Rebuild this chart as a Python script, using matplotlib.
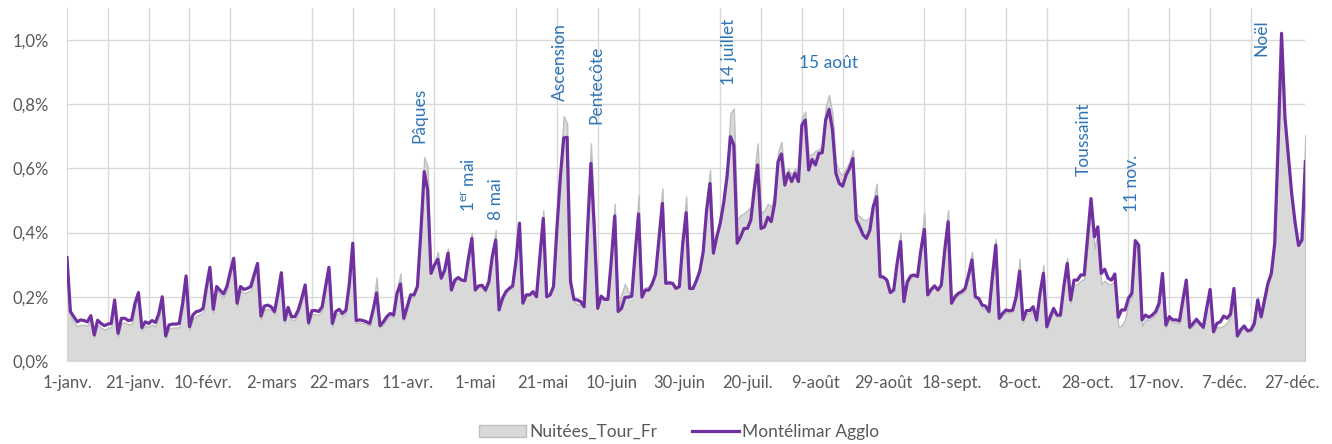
import matplotlib
matplotlib.use('Agg')
import matplotlib.pyplot as plt
from matplotlib.patches import Patch
from matplotlib.lines import Line2D
import numpy as np

plt.rcParams['font.family'] = ['Lato', 'DejaVu Sans']
plt.rcParams['mathtext.default'] = 'regular'

# 2022, one value per day (1 Jan .. 31 Dec), in %
montelimar = [
    0.322, 0.154, 0.138, 0.122, 0.128, 0.126, 0.122, 0.141, 0.081, 0.127,
    0.117, 0.110, 0.115, 0.117, 0.190, 0.086, 0.133, 0.133, 0.126, 0.128,
    0.180, 0.213, 0.104, 0.122, 0.117, 0.126, 0.120, 0.148, 0.200, 0.078,
    0.112, 0.115, 0.115, 0.117, 0.180, 0.265, 0.107, 0.143, 0.154, 0.156,
    0.164, 0.232, 0.292, 0.161, 0.232, 0.220, 0.209, 0.232, 0.278, 0.320,
    0.180, 0.232, 0.223, 0.226, 0.232, 0.268, 0.304, 0.140, 0.171, 0.174,
    0.169, 0.154, 0.211, 0.275, 0.128, 0.167, 0.138, 0.138, 0.159, 0.195,
    0.237, 0.119, 0.157, 0.157, 0.154, 0.169, 0.232, 0.292, 0.117, 0.154,
    0.161, 0.148, 0.159, 0.242, 0.367, 0.126, 0.128, 0.126, 0.122, 0.117,
    0.160, 0.212, 0.110, 0.122, 0.138, 0.148, 0.143, 0.211, 0.240, 0.133,
    0.169, 0.206, 0.206, 0.232, 0.400, 0.590, 0.533, 0.273, 0.299, 0.317,
    0.258, 0.283, 0.336, 0.221, 0.252, 0.260, 0.252, 0.250, 0.320, 0.382,
    0.221, 0.234, 0.236, 0.221, 0.247, 0.325, 0.377, 0.159, 0.195, 0.216,
    0.226, 0.234, 0.315, 0.429, 0.180, 0.206, 0.206, 0.216, 0.200, 0.325,
    0.444, 0.200, 0.206, 0.232, 0.412, 0.571, 0.695, 0.697, 0.247, 0.192,
    0.190, 0.185, 0.169, 0.408, 0.616, 0.410, 0.164, 0.202, 0.192, 0.192,
    0.315, 0.452, 0.154, 0.164, 0.198, 0.199, 0.202, 0.336, 0.458, 0.199,
    0.221, 0.221, 0.240, 0.270, 0.380, 0.491, 0.242, 0.243, 0.242, 0.226,
    0.232, 0.367, 0.462, 0.226, 0.226, 0.250, 0.280, 0.340, 0.470, 0.553,
    0.336, 0.387, 0.429, 0.491, 0.574, 0.699, 0.673, 0.367, 0.387, 0.413,
    0.413, 0.439, 0.533, 0.611, 0.413, 0.418, 0.448, 0.434, 0.491, 0.621,
    0.645, 0.548, 0.585, 0.559, 0.585, 0.559, 0.735, 0.751, 0.595, 0.628,
    0.611, 0.647, 0.649, 0.751, 0.784, 0.720, 0.585, 0.553, 0.545, 0.579,
    0.600, 0.631, 0.440, 0.418, 0.393, 0.382, 0.408, 0.481, 0.512, 0.263,
    0.261, 0.252, 0.213, 0.221, 0.304, 0.372, 0.185, 0.247, 0.265, 0.268,
    0.263, 0.346, 0.410, 0.206, 0.223, 0.234, 0.221, 0.237, 0.346, 0.434,
    0.180, 0.200, 0.211, 0.216, 0.226, 0.268, 0.315, 0.200, 0.195, 0.174,
    0.171, 0.154, 0.261, 0.361, 0.133, 0.148, 0.159, 0.156, 0.159, 0.200,
    0.280, 0.129, 0.157, 0.157, 0.169, 0.128, 0.211, 0.273, 0.107, 0.138,
    0.164, 0.143, 0.143, 0.232, 0.304, 0.190, 0.252, 0.252, 0.268, 0.268,
    0.387, 0.506, 0.387, 0.418, 0.273, 0.286, 0.258, 0.252, 0.271, 0.136,
    0.159, 0.159, 0.195, 0.211, 0.375, 0.361, 0.128, 0.143, 0.136, 0.143,
    0.154, 0.180, 0.273, 0.112, 0.138, 0.128, 0.128, 0.125, 0.190, 0.252,
    0.105, 0.117, 0.130, 0.117, 0.105, 0.165, 0.223, 0.091, 0.117, 0.122,
    0.140, 0.133, 0.146, 0.226, 0.078, 0.097, 0.109, 0.094, 0.097, 0.117,
    0.190, 0.138, 0.190, 0.242, 0.273, 0.367, 0.678, 1.021, 0.760, 0.640,
    0.520, 0.430, 0.360, 0.377, 0.621,
]

nuitees_fr = [
    0.310, 0.140, 0.120, 0.108, 0.113, 0.112, 0.110, 0.130, 0.075, 0.112,
    0.104, 0.098, 0.102, 0.106, 0.180, 0.078, 0.118, 0.120, 0.114, 0.116,
    0.168, 0.205, 0.095, 0.110, 0.106, 0.114, 0.108, 0.135, 0.190, 0.072,
    0.100, 0.104, 0.104, 0.106, 0.170, 0.255, 0.098, 0.130, 0.140, 0.144,
    0.152, 0.220, 0.285, 0.150, 0.220, 0.208, 0.198, 0.220, 0.268, 0.310,
    0.170, 0.220, 0.212, 0.215, 0.220, 0.258, 0.295, 0.130, 0.160, 0.163,
    0.158, 0.145, 0.200, 0.265, 0.118, 0.155, 0.128, 0.128, 0.148, 0.185,
    0.228, 0.110, 0.146, 0.146, 0.144, 0.158, 0.222, 0.285, 0.108, 0.144,
    0.150, 0.138, 0.150, 0.235, 0.360, 0.118, 0.120, 0.118, 0.115, 0.110,
    0.170, 0.260, 0.105, 0.115, 0.130, 0.140, 0.136, 0.220, 0.273, 0.125,
    0.160, 0.198, 0.200, 0.235, 0.420, 0.636, 0.605, 0.280, 0.305, 0.340,
    0.265, 0.290, 0.350, 0.230, 0.245, 0.255, 0.255, 0.252, 0.330, 0.400,
    0.225, 0.230, 0.230, 0.215, 0.240, 0.335, 0.408, 0.165, 0.190, 0.210,
    0.225, 0.230, 0.320, 0.435, 0.190, 0.205, 0.205, 0.215, 0.205, 0.340,
    0.470, 0.205, 0.205, 0.235, 0.430, 0.600, 0.763, 0.740, 0.260, 0.185,
    0.175, 0.178, 0.170, 0.430, 0.678, 0.440, 0.170, 0.205, 0.195, 0.195,
    0.330, 0.490, 0.165, 0.210, 0.240, 0.215, 0.210, 0.360, 0.517, 0.205,
    0.230, 0.230, 0.250, 0.290, 0.410, 0.538, 0.250, 0.250, 0.245, 0.230,
    0.235, 0.390, 0.512, 0.230, 0.230, 0.260, 0.290, 0.360, 0.500, 0.595,
    0.360, 0.400, 0.440, 0.500, 0.600, 0.772, 0.787, 0.440, 0.455, 0.460,
    0.470, 0.480, 0.580, 0.678, 0.460, 0.470, 0.490, 0.480, 0.520, 0.650,
    0.683, 0.570, 0.600, 0.580, 0.600, 0.580, 0.760, 0.777, 0.640, 0.645,
    0.655, 0.660, 0.670, 0.792, 0.829, 0.770, 0.620, 0.590, 0.580, 0.600,
    0.620, 0.657, 0.460, 0.450, 0.440, 0.440, 0.450, 0.500, 0.553, 0.270,
    0.265, 0.255, 0.215, 0.225, 0.320, 0.400, 0.190, 0.240, 0.260, 0.265,
    0.265, 0.370, 0.462, 0.205, 0.220, 0.230, 0.220, 0.235, 0.370, 0.470,
    0.180, 0.195, 0.205, 0.210, 0.220, 0.280, 0.340, 0.195, 0.190, 0.165,
    0.162, 0.150, 0.270, 0.380, 0.130, 0.142, 0.152, 0.150, 0.155, 0.205,
    0.318, 0.120, 0.148, 0.148, 0.160, 0.120, 0.220, 0.299, 0.100, 0.130,
    0.155, 0.137, 0.140, 0.240, 0.320, 0.180, 0.235, 0.240, 0.250, 0.255,
    0.360, 0.490, 0.350, 0.400, 0.240, 0.250, 0.240, 0.240, 0.250, 0.107,
    0.110, 0.130, 0.180, 0.200, 0.360, 0.350, 0.110, 0.130, 0.128, 0.135,
    0.145, 0.170, 0.265, 0.105, 0.130, 0.120, 0.120, 0.118, 0.180, 0.245,
    0.100, 0.110, 0.122, 0.110, 0.100, 0.160, 0.220, 0.088, 0.105, 0.105,
    0.110, 0.120, 0.138, 0.220, 0.075, 0.092, 0.100, 0.090, 0.092, 0.110,
    0.200, 0.130, 0.180, 0.235, 0.265, 0.360, 0.670, 1.000, 0.740, 0.620,
    0.500, 0.410, 0.360, 0.400, 0.704,
]

tick_labels = ['1-janv.', '21-janv.', '10-févr.', '2-mars', '22-mars', '11-avr.',
               '1-mai', '21-mai', '10-juin', '30-juin', '20-juil.', '9-août',
               '29-août', '18-sept.', '8-oct.', '28-oct.', '17-nov.', '7-déc.',
               '27-déc.']

# holiday labels: (text, day index, value %, rotation)
events = [
    ('Pâques', 103.6, 0.68, 90),
    ('1$^{er}$ mai', 118.1, 0.465, 90),
    ('8 mai', 126.2, 0.44, 90),
    ('Ascension', 144.8, 0.81, 90),
    ('Pentecôte', 155.6, 0.74, 90),
    ('14 juillet', 194.7, 0.86, 90),
    ('15 août', 223.8, 0.93, 0),
    ('Toussaint', 298.9, 0.577, 90),
    ('11 nov.', 313.0, 0.465, 90),
    ('Noël', 351.0, 0.95, 90),
]

days = np.arange(len(montelimar))
purple = '#7030A0'
txt_blue = '#2E75B6'

fig = plt.figure(figsize=(13.32, 4.44), dpi=100)
ax = fig.add_axes([0.0503, 0.187, 0.9297, 0.795])

ax.fill_between(days, nuitees_fr, 0, facecolor='#D9D9D9', edgecolor='#BFBFBF',
                linewidth=1.0, zorder=2)
ax.plot(days, montelimar, color=purple, linewidth=2.3, zorder=3,
        solid_joinstyle='round')

ax.set_xlim(0, len(days) - 1)
ax.set_ylim(0, 1.1)
ax.set_yticks(np.arange(0, 1.01, 0.2))
ax.set_yticklabels(['{:.1f}%'.format(v).replace('.', ',') for v in np.arange(0, 1.01, 0.2)])
ax.set_xticks(np.arange(0, 361, 20))
ax.set_xticklabels(tick_labels)
ax.set_xticks(np.arange(0, 361, 12), minor=True)

ax.grid(True, which='minor', axis='x', color='#D9D9D9', linewidth=1.0, zorder=0)
ax.grid(True, which='major', axis='y', color='#D9D9D9', linewidth=1.0, zorder=0)
ax.set_axisbelow(True)

ax.tick_params(axis='both', which='both', length=0, labelsize=12,
               colors='#595959')
ax.tick_params(axis='x', pad=10)
ax.tick_params(axis='y', pad=13)
for s in ['top', 'right']:
    ax.spines[s].set_visible(False)
ax.spines['left'].set_color('#D9D9D9')
ax.spines['bottom'].set_color('#D9D9D9')

for label, d, v, rot in events:
    if rot == 90:
        ax.text(d, v, label, rotation=90, ha='center', va='bottom',
                color=txt_blue, fontsize=12.5)
    else:
        ax.text(d, v, label, ha='center', va='center', color=txt_blue,
                fontsize=12.5)

handles = [Patch(facecolor='#D9D9D9', edgecolor='#BFBFBF', label='Nuitées_Tour_Fr'),
           Line2D([0], [0], color=purple, linewidth=2.3, label='Montélimar Agglo')]
leg = fig.legend(handles=handles, loc='center', ncol=2, frameon=False,
                 bbox_to_anchor=(0.51, 0.027), fontsize=12.5, handlelength=2.7,
                 handletextpad=0.2, columnspacing=2.0)
for t in leg.get_texts():
    t.set_color('#595959')

fig.savefig('out.png', dpi=100)
